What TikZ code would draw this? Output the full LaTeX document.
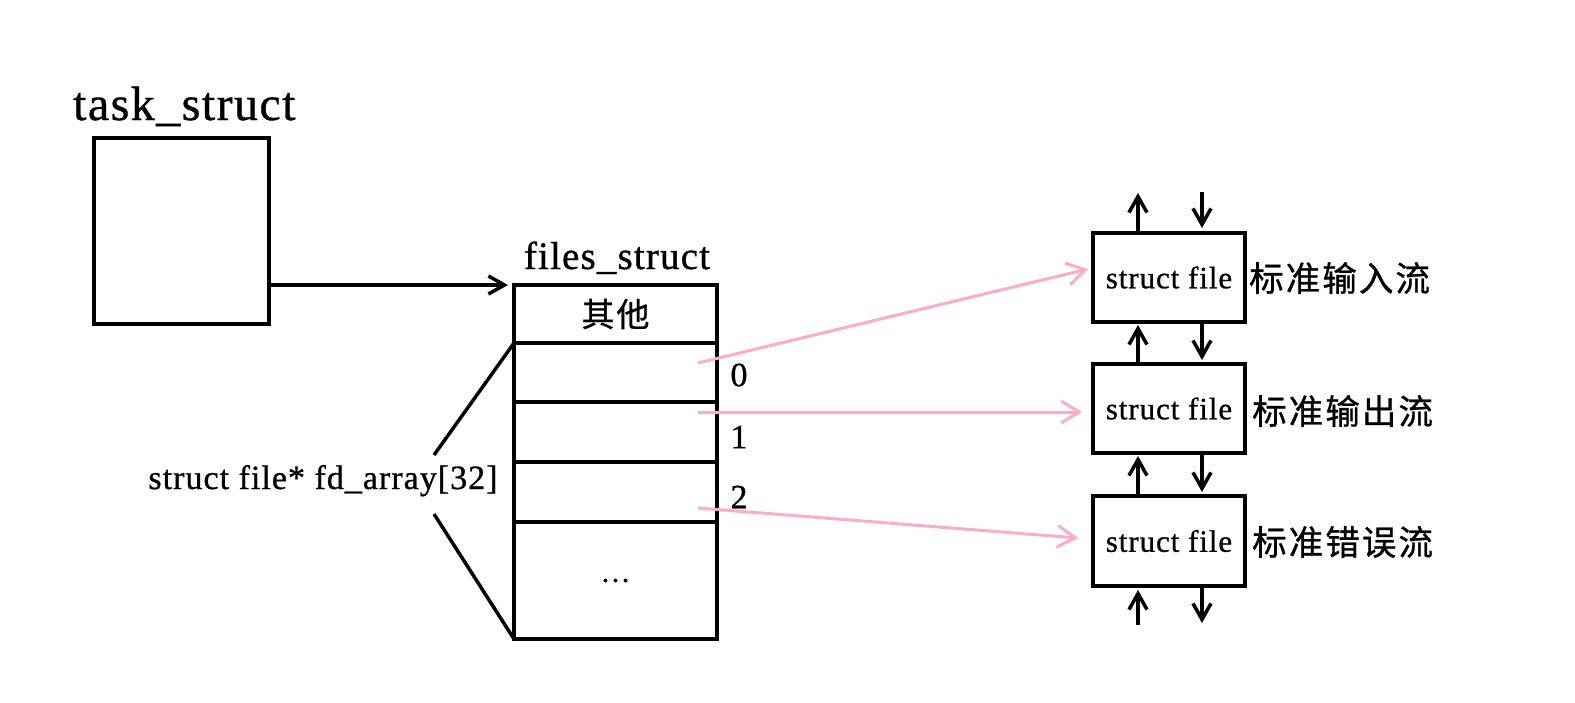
\documentclass[tikz,border=0pt]{standalone}
\usepackage{fontspec}
\setmainfont{Liberation Serif}
\newfontfamily\lsp[LetterSpace=3,FakeBold=0.8]{Liberation Serif}
\newfontfamily\cjksp[LetterSpace=6,FakeBold=0.8]{Noto Sans CJK SC}
\usetikzlibrary{arrows.meta}
\definecolor{pinkline}{RGB}{255,170,200}
\begin{document}
\begin{tikzpicture}[x=1pt,y=-1pt,
  box/.style={draw,line width=3.5pt,inner sep=0pt,outer sep=0pt},
  blk/.style={line width=3.5pt,-{Straight Barb[length=16pt,width=18pt]}},
  pk/.style={draw=pinkline,line width=3pt,-{Straight Barb[length=18pt,width=22pt]}},
  big/.style={inner sep=0pt,font=\lsp\fontsize{48}{56}\selectfont},
  mid/.style={inner sep=0pt,font=\lsp\fontsize{34}{40}\selectfont},
  small/.style={inner sep=0pt,font=\lsp\fontsize{31}{36}\selectfont},
  cjklbl/.style={inner sep=0pt,font=\cjksp\fontsize{34.5}{42}\selectfont},
]
\useasboundingbox (0,0) rectangle (1575,702);

% task_struct
\node[box,minimum width=175pt,minimum height=186pt] (task) at (181.5,231) {};
\node[big,anchor=base west] (tasklbl) at (73,120) {task\_struct};

% files_struct
\node[mid,anchor=base,font=\lsp\fontsize{39}{46}\selectfont] (fslbl) at (617,269) {files\_struct};
\node[box,minimum width=203pt,minimum height=58pt,font=\cjksp\fontsize{33}{38}\selectfont] (r0) at (615.5,314) {其他};
\node[box,minimum width=203pt,minimum height=59pt] (r1) at (615.5,372.5) {};
\node[box,minimum width=203pt,minimum height=60pt] (r2) at (615.5,432) {};
\node[box,minimum width=203pt,minimum height=60pt] (r3) at (615.5,492) {};
\node[box,minimum width=203pt,minimum height=117pt,font=\lsp\fontsize{30}{34}\selectfont] (r4) at (615.5,580.5) {\ldots};

\node[mid] (i0) at (739,375) {0};
\node[mid] (i1) at (739,437) {1};
\node[mid] (i2) at (739,497) {2};

% fd_array
\node[mid,anchor=base] (fd) at (323,489) {struct file* fd\_array[32]};
\coordinate (fdt) at (434,455);
\coordinate (fdb) at (434,514);
\draw[line width=3.5pt] (r1.north west) -- (fdt);
\draw[line width=3.5pt] (fdb) -- (r4.south west);

\draw[blk] (task.east |- r0.north) -- ([xshift=-6pt]r0.north west);

% struct file boxes
\node[box,small,minimum width=152pt,minimum height=89pt] (sf1) at (1169,277.5) {struct file};
\node[box,small,minimum width=152pt,minimum height=89pt] (sf2) at (1169,408.5) {struct file};
\node[box,small,minimum width=152pt,minimum height=90pt] (sf3) at (1169,541) {struct file};

\node[cjklbl,anchor=west] (l1) at (1249,278) {标准输入流};
\node[cjklbl,anchor=west] (l2) at (1252,411) {标准输出流};
\node[cjklbl,anchor=west] (l3) at (1252,542) {标准错误流};

% pink pointers
\draw[pk] ([xshift=-19pt,yshift=9.5pt]r1.east) -- ([xshift=-5pt,yshift=8.5pt]sf1.west);
\draw[pk] ([xshift=-19pt,yshift=20pt]r2.east) -- ([xshift=-11pt,yshift=-3.5pt]sf2.west);
\draw[pk] ([xshift=-19pt,yshift=-16pt]r3.east) -- ([xshift=-15pt,yshift=3pt]sf3.west);

% small stream arrows
\coordinate (tu) at ([xshift=-31pt,yshift=40pt]sf1.north);
\coordinate (td) at ([xshift=33pt,yshift=41pt]sf1.north);
\draw[blk] ([xshift=-31pt]sf1.north) -- (tu);
\draw[blk] (td) -- ([xshift=33pt,yshift=5pt]sf1.north);
\draw[blk] ([xshift=-31pt]sf2.north) -- ([xshift=-31pt,yshift=-3pt]sf1.south);
\draw[blk] ([xshift=33pt]sf1.south) -- ([xshift=33pt,yshift=4pt]sf2.north);
\draw[blk] ([xshift=-31pt]sf3.north) -- ([xshift=-31pt,yshift=-3pt]sf2.south);
\draw[blk] ([xshift=33pt]sf2.south) -- ([xshift=33pt,yshift=4pt]sf3.north);
\coordinate (bu) at ([xshift=-31pt,yshift=-39pt]sf3.south);
\coordinate (bd) at ([xshift=33pt,yshift=-37pt]sf3.south);
\draw[blk] (bu) -- ([xshift=-31pt,yshift=-4pt]sf3.south);
\draw[blk] ([xshift=33pt]sf3.south) -- (bd);
\end{tikzpicture}
\end{document}
